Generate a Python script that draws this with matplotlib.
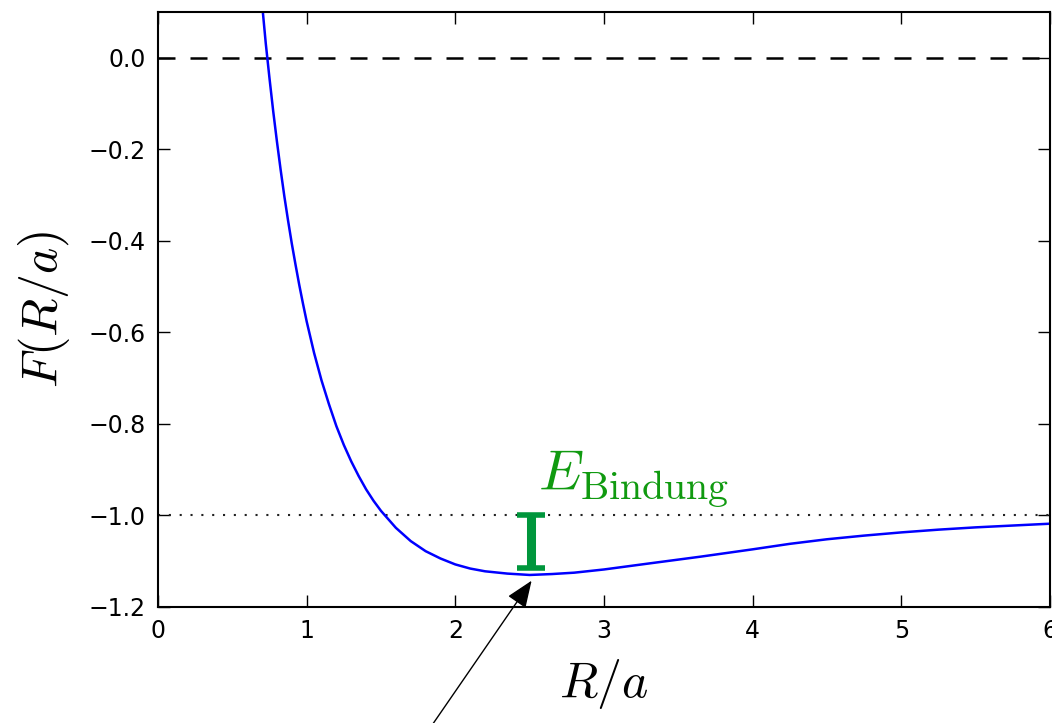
import matplotlib
matplotlib.use("Agg")
import matplotlib.pyplot as plt

plt.rcParams['mathtext.fontset'] = 'cm'

# curve values
r_vals = [0.70, 0.725, 0.75, 0.775, 0.80, 0.825, 0.85, 0.875, 0.90, 0.925,
          0.95, 0.975, 1.00, 1.05, 1.10, 1.15, 1.20, 1.25, 1.30, 1.35,
          1.40, 1.45, 1.50, 1.60, 1.70, 1.80, 1.90, 2.00, 2.10, 2.20,
          2.35, 2.50, 2.65, 2.80, 3.00, 3.30, 3.65, 4.00, 4.25, 4.50,
          4.75, 5.00, 5.25, 5.50, 5.75, 6.00]
f_vals = [0.118, 0.031, -0.045, -0.117, -0.183, -0.245, -0.303, -0.356, -0.406, -0.452,
          -0.496, -0.537, -0.576, -0.645, -0.705, -0.757, -0.805, -0.846, -0.882, -0.914,
          -0.943, -0.968, -0.990, -1.027, -1.056, -1.078, -1.094, -1.107, -1.116, -1.122,
          -1.127, -1.130, -1.128, -1.125, -1.118, -1.105, -1.090, -1.074, -1.062, -1.052,
          -1.044, -1.037, -1.031, -1.026, -1.022, -1.018]

x_ticks = [0, 1, 2, 3, 4, 5, 6]
y_ticks = [-1.2, -1.0, -0.8, -0.6, -0.4, -0.2, 0.0]

# binding energy marker
bind_x = 2.51
bind_top = -1.0
bind_bottom = -1.115
bind_label = r'$E_\mathrm{Bindung}$'

# arrow (tail below the axes)
arrow_tip = (2.513, -1.1425)
arrow_tail = (1.85, -1.455)

fig = plt.figure(figsize=(10.52, 7.23), dpi=100)
ax = fig.add_axes([158/1052, 116/723, 892/1052, 595/723])

ax.axhline(0.0, color='k', lw=1.8, linestyle=(0, (6.8, 6)))
ax.axhline(-1.0, color='#222222', lw=1.5, linestyle=(0, (1, 4.2)))
ax.plot(r_vals, f_vals, color=(0, 0, 1), lw=1.8, solid_joinstyle='round')

mid = (bind_top + bind_bottom) / 2
half = (bind_top - bind_bottom) / 2
ax.errorbar([bind_x], [mid], yerr=[half], fmt='none', ecolor='#00963c',
            elinewidth=6.5, capsize=10, capthick=4)
ax.text(2.555, -0.945, bind_label, color='#109a10', fontsize=41,
        ha='left', va='baseline')

ax.annotate('', xy=arrow_tip, xytext=arrow_tail, annotation_clip=False,
            arrowprops=dict(arrowstyle='-|>,head_length=0.4,head_width=0.16',
                            color='k', lw=1, mutation_scale=42,
                            shrinkA=0, shrinkB=0))

ax.set_xlim(0, 6)
ax.set_ylim(-1.2, 0.1)
ax.set_xticks(x_ticks)
ax.set_yticks(y_ticks)
ax.tick_params(direction='in', top=True, right=True, length=8.5, width=1,
               labelsize=17, pad=9)
for s in ax.spines.values():
    s.set_linewidth(1.5)

ax.set_xlabel(r'$R/a$', fontsize=36, labelpad=10)
ax.set_ylabel(r'$F(R/a)$', fontsize=36, labelpad=12)

fig.savefig('out.png', dpi=100)
